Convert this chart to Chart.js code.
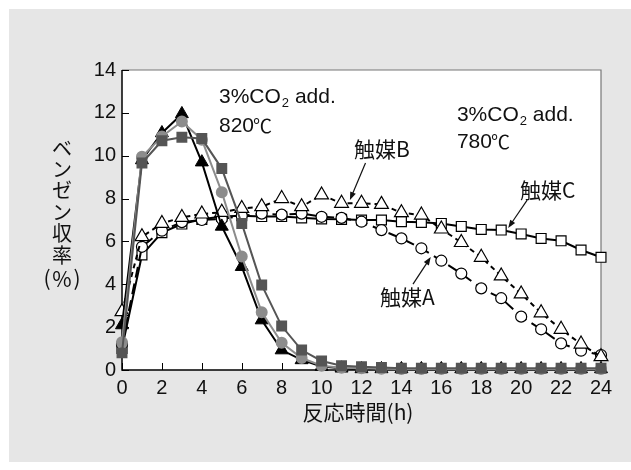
<!DOCTYPE html>
<html>
<head>
<meta charset="utf-8">
<script src="https://cdn.jsdelivr.net/npm/chart.js@4.4.1/dist/chart.umd.min.js"></script>
<style>
  body { margin: 0; background: #fff; }
  canvas { display: block; }
</style>
</head>
<body>
<canvas id="benzeneChart" width="631" height="470"></canvas>
<script>
// reaction time (h)
const hours = [0, 1, 2, 3, 4, 5, 6, 7, 8, 9, 10, 11, 12, 13, 14, 15, 16, 17, 18, 19, 20, 21, 22, 23, 24];

// 820℃ (filled markers)
const catA820 = [2.1, 9.8, 11.06, 11.95, 9.7, 6.7, 4.82, 2.33, 0.93, 0.47, 0.16, 0.08, 0.05, 0.05, 0.05, 0.05, 0.05, 0.05, 0.05, 0.05, 0.05, 0.05, 0.05, 0.05, 0.05];
const catB820 = [1.3, 9.95, 10.9, 11.6, 10.75, 8.3, 5.3, 2.7, 1.27, 0.56, 0.2, 0.1, 0.08, 0.06, 0.05, 0.05, 0.05, 0.05, 0.05, 0.05, 0.05, 0.05, 0.05, 0.05, 0.05];
const catC820 = [0.8, 9.66, 10.7, 10.86, 10.8, 9.4, 6.84, 3.97, 2.05, 0.93, 0.42, 0.2, 0.15, 0.12, 0.08, 0.08, 0.08, 0.08, 0.08, 0.08, 0.08, 0.08, 0.08, 0.08, 0.08];

// 780℃ (open markers)
const catA780 = [1.2, 5.75, 6.5, 6.9, 7.0, 7.05, 7.2, 7.3, 7.25, 7.3, 7.15, 7.1, 6.92, 6.53, 6.14, 5.68, 5.1, 4.5, 3.81, 3.35, 2.49, 1.9, 1.24, 0.9, 0.7];
const catB780 = [2.72, 6.22, 6.84, 7.12, 7.28, 7.36, 7.54, 7.62, 8.0, 7.62, 8.17, 7.78, 7.78, 7.73, 7.34, 7.23, 6.58, 5.95, 5.26, 4.39, 3.55, 2.67, 1.9, 1.21, 0.62];
const catC780 = [1.01, 5.37, 6.41, 6.81, 7.03, 7.16, 7.2, 7.16, 7.16, 7.1, 7.05, 7.03, 7.0, 7.0, 6.92, 6.89, 6.84, 6.7, 6.56, 6.53, 6.35, 6.14, 6.03, 5.6, 5.26];

const xTicks = [0, 2, 4, 6, 8, 10, 12, 14, 16, 18, 20, 22, 24];
const yTicks = [0, 2, 4, 6, 8, 10, 12, 14];

const latin = '"Liberation Sans", Arial, sans-serif';
const cjk = '"Noto Sans CJK JP", "Liberation Sans", sans-serif';

function toPoints(values) {
    return values.map((v, i) => ({ x: hours[i], y: v }));
}

// background, plot frame and inward tick marks
const framePlugin = {
    id: 'frame',
    beforeDraw(chart) {
        const ctx = chart.ctx;
        const a = chart.chartArea;
        ctx.save();
        ctx.fillStyle = '#fff';
        ctx.fillRect(0, 0, chart.width, chart.height);
        ctx.fillStyle = '#e6e6e6';
        ctx.fillRect(9, 9, chart.width - 9, 453);
        ctx.fillStyle = '#fff';
        ctx.fillRect(a.left, a.top, a.right - a.left, a.bottom - a.top);
        ctx.restore();
    },
    beforeDatasetsDraw(chart) {
        const ctx = chart.ctx;
        const a = chart.chartArea;
        const xs = chart.scales.x, ys = chart.scales.y;
        ctx.save();
        ctx.strokeStyle = '#777';
        ctx.lineWidth = 1.2;
        ctx.beginPath();
        ctx.moveTo(a.left, a.top);
        ctx.lineTo(a.right, a.top);
        ctx.lineTo(a.right, a.bottom);
        ctx.stroke();
        ctx.strokeStyle = '#000';
        ctx.lineWidth = 1.5;
        ctx.beginPath();
        ctx.moveTo(a.left, a.top);
        ctx.lineTo(a.left, a.bottom);
        ctx.lineTo(a.right, a.bottom);
        ctx.stroke();
        ctx.lineWidth = 1;
        ctx.beginPath();
        yTicks.forEach(v => {
            const py = Math.round(ys.getPixelForValue(v)) + 0.5;
            ctx.moveTo(a.left, py);
            ctx.lineTo(a.left + 7, py);
        });
        xTicks.forEach(v => {
            const px = Math.round(xs.getPixelForValue(v)) + 0.5;
            ctx.moveTo(px, a.bottom);
            ctx.lineTo(px, a.bottom - 7);
        });
        ctx.stroke();
        ctx.restore();
    },
    afterDraw(chart) {
        const ctx = chart.ctx;
        const xs = chart.scales.x, ys = chart.scales.y;
        const X = v => xs.getPixelForValue(v);
        const Y = v => ys.getPixelForValue(v);
        ctx.save();
        ctx.fillStyle = '#111';
        ctx.strokeStyle = '#111';
        ctx.textBaseline = 'middle';

        // y axis title (stacked)
        ctx.textAlign = 'center';
        ctx.font = '20px ' + cjk;
        const yChars = ['ベ', 'ン', 'ゼ', 'ン', '収', '率'];
        yChars.forEach((c, i) => ctx.fillText(c, 62, 148 + i * 21.4));
        ctx.font = '21px ' + cjk;
        ctx.fillText('(', 47, 278);
        ctx.fillText('%', 62, 279);
        ctx.fillText(')', 77, 278);

        // x axis title
        ctx.font = '21px ' + cjk;
        ctx.fillText('反応時間(h)', 358, 412);

        // CO2 notes
        ctx.textAlign = 'left';
        function co2(x, y) {
            ctx.font = '21px ' + latin;
            ctx.fillText('3%CO', x, y);
            const w = ctx.measureText('3%CO').width;
            ctx.font = '13px ' + latin;
            ctx.fillText('2', x + w + 1, y + 6);
            const w2 = ctx.measureText('2').width;
            ctx.font = '21px ' + latin;
            ctx.fillText(' add.', x + w + w2 + 1, y);
        }
        function temp(t, x, y) {
            ctx.font = '21px ' + latin;
            ctx.fillText(t, x, y);
            const w = ctx.measureText(t).width;
            ctx.font = '19px ' + cjk;
            ctx.fillText('℃', x + w - 1, y);
        }
        co2(X(4.86), Y(12.74));
        temp('820', X(4.86), Y(11.39));
        co2(X(16.78), Y(11.9));
        temp('780', X(16.78), Y(10.64));

        // catalyst labels
        ctx.font = '21px ' + cjk;
        ctx.fillText('触媒B', X(11.62), Y(10.31));
        ctx.fillText('触媒C', X(19.94), Y(8.4));
        ctx.fillText('触媒A', X(12.93), Y(3.41));

        function arrow(x1, y1, x2, y2) {
            const px1 = X(x1), py1 = Y(y1), px2 = X(x2), py2 = Y(y2);
            const ang = Math.atan2(py2 - py1, px2 - px1);
            ctx.lineWidth = 1.2;
            ctx.beginPath();
            ctx.moveTo(px1, py1);
            ctx.lineTo(px2 - 6 * Math.cos(ang), py2 - 6 * Math.sin(ang));
            ctx.stroke();
            ctx.beginPath();
            ctx.moveTo(px2, py2);
            ctx.lineTo(px2 - 8 * Math.cos(ang) + 3 * Math.sin(ang), py2 - 8 * Math.sin(ang) - 3 * Math.cos(ang));
            ctx.lineTo(px2 - 8 * Math.cos(ang) - 3 * Math.sin(ang), py2 - 8 * Math.sin(ang) + 3 * Math.cos(ang));
            ctx.closePath();
            ctx.fill();
        }
        arrow(12.2, 9.66, 11.42, 7.93);
        arrow(20.3, 7.93, 19.35, 6.63);
        arrow(14.58, 4.01, 15.47, 5.27);
        ctx.restore();
    }
};

const ctx = document.getElementById('benzeneChart').getContext('2d');
new Chart(ctx, {
    type: 'line',
    data: {
        datasets: [
            {
                label: '触媒C 780℃',
                data: toPoints(catC780),
                borderColor: '#000',
                borderWidth: 2,
                pointStyle: 'rect',
                pointRadius: 7,
                pointBackgroundColor: '#fff',
                pointBorderColor: '#000',
                pointBorderWidth: 1.2,
                clip: false,
                order: 6
            },
            {
                label: '触媒A 780℃',
                data: toPoints(catA780),
                borderColor: '#000',
                borderWidth: 2,
                borderDash: [11, 6],
                pointStyle: 'circle',
                pointRadius: 5.5,
                pointBackgroundColor: '#fff',
                pointBorderColor: '#000',
                pointBorderWidth: 1.2,
                clip: false,
                order: 5
            },
            {
                label: '触媒B 780℃',
                data: toPoints(catB780),
                borderColor: '#000',
                borderWidth: 2,
                borderDash: [5, 4],
                pointStyle: 'triangle',
                pointRadius: 8,
                pointBackgroundColor: '#fff',
                pointBorderColor: '#000',
                pointBorderWidth: 1.2,
                clip: false,
                order: 4
            },
            {
                label: '触媒A 820℃',
                data: toPoints(catA820),
                borderColor: '#000',
                borderWidth: 2,
                pointStyle: 'triangle',
                pointRadius: 7.5,
                pointBackgroundColor: '#000',
                pointBorderColor: '#000',
                pointBorderWidth: 1,
                clip: false,
                order: 3
            },
            {
                label: '触媒B 820℃',
                data: toPoints(catB820),
                borderColor: '#8c8c8c',
                borderWidth: 2,
                pointStyle: 'circle',
                pointRadius: 5,
                pointBackgroundColor: '#8c8c8c',
                pointBorderColor: '#8c8c8c',
                clip: false,
                order: 2
            },
            {
                label: '触媒C 820℃',
                data: toPoints(catC820),
                borderColor: '#555',
                borderWidth: 2,
                pointStyle: 'rect',
                pointRadius: 6.3,
                pointBackgroundColor: '#555',
                pointBorderColor: '#555',
                clip: false,
                order: 1
            }
        ]
    },
    options: {
        responsive: false,
        animation: false,
        devicePixelRatio: 1,
        layout: { padding: { left: 0, right: 30, top: 70, bottom: 0 } },
        plugins: {
            legend: { display: false },
            title: { display: false },
            tooltip: { enabled: false }
        },
        scales: {
            x: {
                type: 'linear',
                min: 0,
                max: 24,
                afterFit: scale => { scale.height = 100; },
                afterBuildTicks: scale => { scale.ticks = xTicks.map(v => ({ value: v })); },
                grid: { display: false, drawTicks: false },
                border: { display: false },
                ticks: {
                    padding: 6,
                    color: '#111',
                    font: { family: latin, size: 20 },
                    maxRotation: 0,
                    autoSkip: false
                }
            },
            y: {
                type: 'linear',
                min: 0,
                max: 14,
                afterFit: scale => { scale.width = 122; },
                afterBuildTicks: scale => { scale.ticks = yTicks.map(v => ({ value: v })); },
                grid: { display: false, drawTicks: false },
                border: { display: false },
                ticks: {
                    padding: 6,
                    color: '#111',
                    font: { family: latin, size: 20 },
                    autoSkip: false
                }
            }
        }
    },
    plugins: [framePlugin]
});
</script>
</body>
</html>
